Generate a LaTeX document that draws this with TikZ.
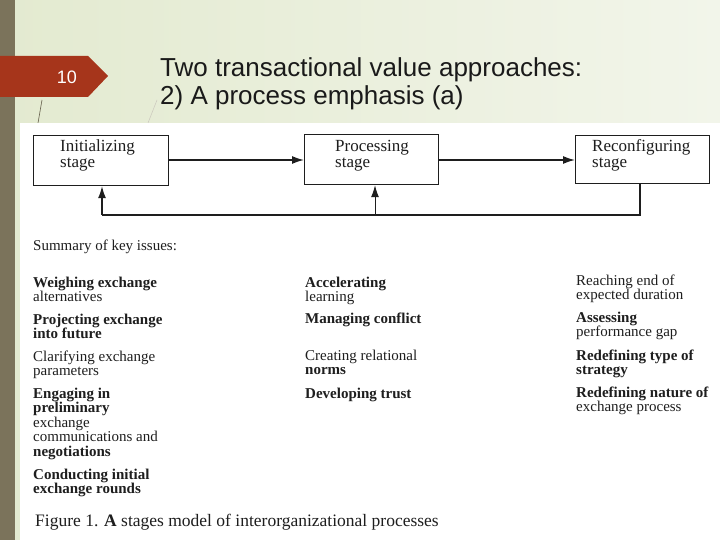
\documentclass[tikz,border=0pt]{standalone}
\usepackage{fontspec}
\setmainfont{Liberation Serif}
\newfontfamily\titlefont{Liberation Sans}
\usetikzlibrary{arrows.meta,shadings}
\definecolor{bgA}{HTML}{E3EAD0}
\definecolor{bgB}{HTML}{F2F5EA}
\definecolor{sidebar}{HTML}{7B735B}
\definecolor{tabred}{HTML}{A6351B}
\definecolor{inkc}{HTML}{1E1E1E}
\definecolor{titleink}{HTML}{1A1A1A}
\tikzset{
  stagebox/.style={draw=inkc, line width=1.2pt, anchor=north west, inner sep=0pt},
  stagetext/.style={anchor=base west, inner sep=0pt, text=inkc, font=\fontsize{17}{16}\selectfont, align=left},
  issue/.style={anchor=base west, inner sep=0pt, text=inkc, font=\fontsize{15}{14.5}\selectfont, align=left},
  flow/.style={draw=inkc, line width=1.5pt, -{Latex[length=12pt,width=8pt]}},
  fb/.style={draw=inkc, line width=1.3pt},
}
\begin{document}
\begin{tikzpicture}[x=1pt,y=-1pt]
\useasboundingbox (0,0) rectangle (720,540);
% background
\shade[left color=bgA, right color=bgB] (0,0) rectangle (720,540);
\fill[sidebar] (0,0) rectangle (15,540);
% red tab
\fill[tabred] (0,56) -- (88,56) -- (108,76) -- (88,97) -- (0,97) -- cycle;
\node[text=white, font=\titlefont\fontsize{18}{18}\selectfont, anchor=center] (num) at (67,77) {10};
% title (base anchor = last line)
\node[anchor=base west, inner sep=0pt, text=titleink, font=\titlefont\fontsize{26}{28}\selectfont, align=left] (title) at (160,105) {Two transactional value approaches:\\2) A process emphasis (a)};
% decorative blades
\draw[sidebar!80!black, line width=0.6pt] (42,100) -- (38,123);
\draw[sidebar!40, line width=0.5pt] (157,100) -- (148,123);
% white figure area
\fill[white] (20,123) rectangle (720,540);
% stage boxes
\node[stagebox, minimum width=135pt, minimum height=50pt] (init) at (33,135) {};
\node[stagebox, minimum width=134pt, minimum height=50pt] (proc) at (304,134) {};
\node[stagebox, minimum width=134pt, minimum height=48pt] (reco) at (575,135) {};
\node[stagetext] (initt) at (60,168) {Initializing\\stage};
\node[stagetext] (proct) at (335,168) {Processing\\stage};
\node[stagetext] (recot) at (592,168) {Reconfiguring\\stage};
% forward arrows
\draw[flow] (init.east |- 0,160) -- (proc.west |- 0,160);
\draw[flow] (proc.east |- 0,160) -- (reco.west |- 0,160);
% feedback loop
\coordinate (fbR) at (640,215);
\coordinate (fbL) at (102,215);
\coordinate (fbM) at (375,215);
\draw[fb] (reco.south -| fbR) -- (fbR) -- (fbL);
\draw[flow, line width=1.3pt] (fbL) -- (init.south -| fbL);
\draw[flow, line width=1pt] (fbM) -- (proc.south -| fbM);
% summary
\node[issue] (summ) at (33,250) {Summary of key issues:};
% left column (base anchor = last line)
\node[issue] (a1) at (33,301.5) {\textbf{Weighing exchange}\\alternatives};
\node[issue] (a2) at (33,338.5) {\textbf{Projecting exchange}\\\textbf{into future}};
\node[issue] (a3) at (33,375.5) {Clarifying exchange\\parameters};
\node[issue] (a4) at (33,456) {\textbf{Engaging in}\\\textbf{preliminary}\\exchange\\communications and\\\textbf{negotiations}};
\node[issue] (a5) at (33,493.5) {\textbf{Conducting initial}\\\textbf{exchange rounds}};
% middle column
\node[issue] (b1) at (305,301.5) {\textbf{Accelerating}\\learning};
\node[issue] (b2) at (305,323) {\textbf{Managing conflict}};
\node[issue] (b3) at (305,374.5) {Creating relational\\\textbf{norms}};
\node[issue] (b4) at (305,398) {\textbf{Developing trust}};
% right column
\node[issue] (c1) at (576,299.5) {Reaching end of\\expected duration};
\node[issue] (c2) at (576,336.5) {\textbf{Assessing}\\performance gap};
\node[issue] (c3) at (576,374.5) {\textbf{Redefining type of}\\\textbf{strategy}};
\node[issue] (c4) at (576,411.5) {\textbf{Redefining nature of}\\exchange process};
% caption
\node[anchor=base west, inner sep=0pt, text=inkc, font=\fontsize{17.5}{18}\selectfont] (cap) at (35,526) {Figure 1. \textbf{A} stages model of interorganizational processes};
\end{tikzpicture}
\end{document}
